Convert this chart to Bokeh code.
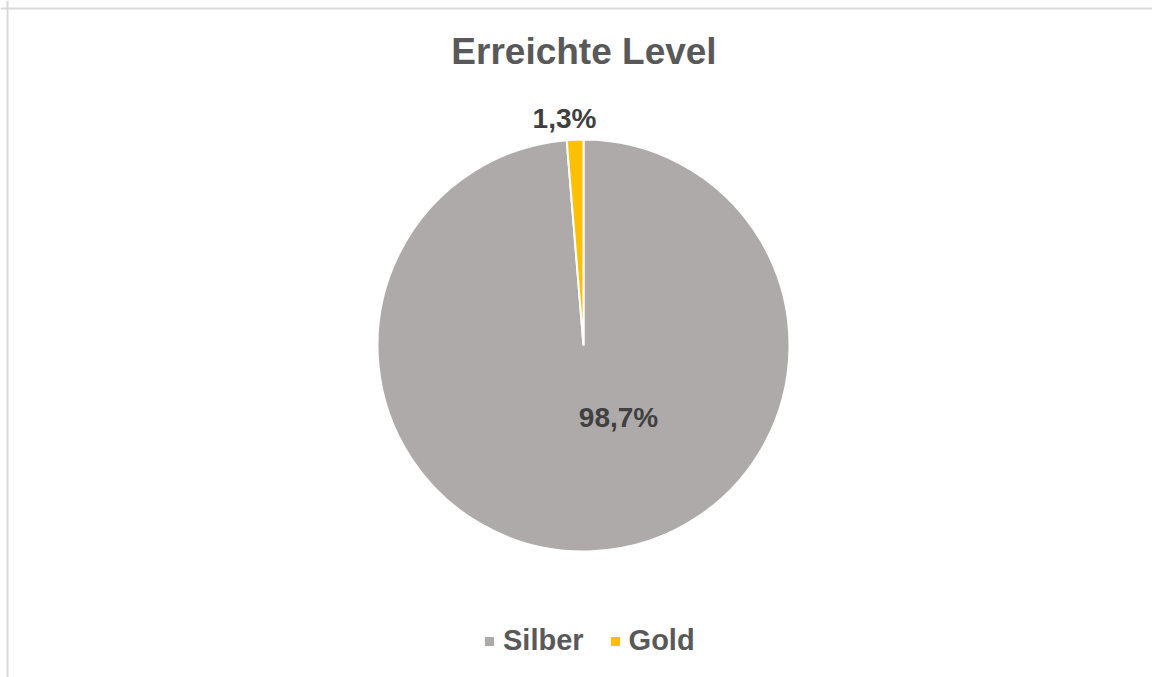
from math import pi
from bokeh.plotting import figure
from bokeh.models import Range1d, Legend, LegendItem, Span
from bokeh.core.properties import value
from bokeh.embed import file_html
from bokeh.resources import INLINE

# ---- data ----
categories = ["Silber", "Gold"]
shares = [98.7, 1.3]
colors = ["#AEAAAA", "#FFC000"]
labels = ["98,7%", "1,3%"]
title_text = "Erreichte Level"

# ---- layout ----
W, H = 1152, 677
CX, CY, R = 583, 332, 206
FONT = "Liberation Sans"

p = figure(width=W, height=H, output_backend="svg", toolbar_location=None,
           x_range=Range1d(0, W), y_range=Range1d(0, H), min_border=0,
           outline_line_color=None, background_fill_color="white")
p.axis.visible = False
p.xgrid.visible = False
p.ygrid.visible = False

# Excel style: start at 12 o'clock and go clockwise
total = sum(shares)
starts, ends = [], []
cum = 0.0
for s in shares:
    a0 = pi / 2 - 2 * pi * cum / total
    a1 = pi / 2 - 2 * pi * (cum + s) / total
    starts.append(a1)
    ends.append(a0)
    cum += s

renderers = []
for i in range(len(categories)):
    r = p.wedge(x=CX, y=CY, radius=R, start_angle=starts[i], end_angle=ends[i],
                fill_color=colors[i], line_color="white", line_width=2)
    renderers.append(r)

# data labels (anchor positions relative to pie centre)
label_anchor = {"Silber": (35, -72), "Gold": (-19, 227)}
lx = [CX + label_anchor[c][0] for c in categories]
ly = [CY + label_anchor[c][1] for c in categories]
p.text(x=lx, y=ly, text=labels, text_align="center", text_baseline="alphabetic",
       text_font=value(FONT), text_font_style="bold", text_font_size="28px",
       text_color="#404040")

# title
p.text(x=[583.5], y=[626], text=[title_text], text_align="center",
       text_baseline="alphabetic", text_font=value(FONT), text_font_style="bold",
       text_font_size="37px", text_color="#595959")

# legend
legend = Legend(items=[LegendItem(label=c, renderers=[r]) for c, r in zip(categories, renderers)],
                orientation="horizontal", location=(482, 20),
                glyph_width=14, glyph_height=14, label_standoff=7, spacing=24,
                padding=0, margin=0, border_line_color=None, background_fill_alpha=0,
                label_text_font=FONT, label_text_font_style="bold",
                label_text_font_size="29px", label_text_color="#595959")
p.add_layout(legend)

# chart-area border (top and left visible in window)
p.add_layout(Span(location=669, dimension="width", line_color="#D9D9D9", line_width=2))
p.add_layout(Span(location=7, dimension="height", line_color="#D9D9D9", line_width=2))

open("out.html", "w").write(file_html(p, INLINE))
